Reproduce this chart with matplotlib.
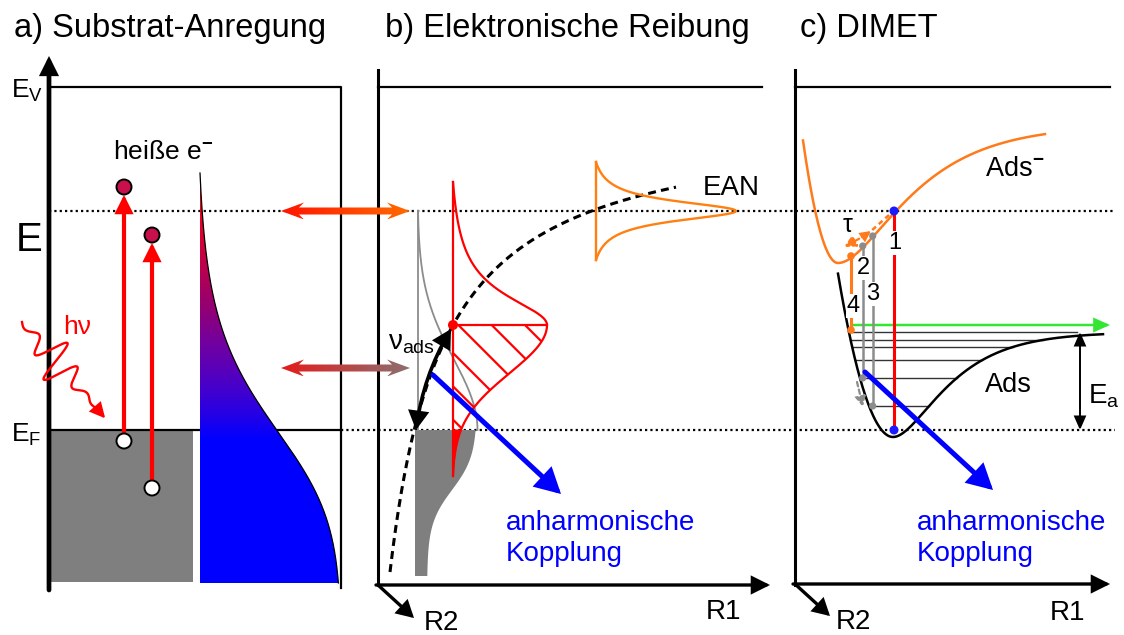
import numpy as np
import matplotlib
matplotlib.use("Agg")
import matplotlib.pyplot as plt
from matplotlib.patches import Polygon, Circle, Rectangle, FancyArrowPatch
from matplotlib.colors import LinearSegmentedColormap

plt.rcParams["font.family"] = ["Liberation Sans", "DejaVu Sans"]
plt.rcParams["mathtext.fontset"] = "custom"
plt.rcParams["mathtext.rm"] = "Liberation Sans"
plt.rcParams["mathtext.it"] = "Liberation Sans:italic"
plt.rcParams["mathtext.bf"] = "Liberation Sans:bold"
plt.rcParams["hatch.linewidth"] = 1.6
plt.rcParams["hatch.color"] = "red"

# ---------------- texts ----------------
panel_titles = ["a) Substrat-Anregung", "b) Elektronische Reibung", "c) DIMET"]
level_labels = [r"$\mathrm{E_V}$", "E", r"$\mathrm{E_F}$"]
hot_label = r"heiße e$^{\mathbf{-}}$"
photon_label = "hν"
vib_label = r"$\mathrm{ν_{ads}}$"
ean_label = "EAN"
coupling_lines = ["anharmonische", "Kopplung"]
coord_labels = ["R1", "R2"]
state_labels = [r"$\mathrm{Ads^{\mathbf{-}}}$", "Ads"]
barrier_label = r"$\mathrm{E_a}$"
step_labels = ["1", "2", "3", "4"]
tau_label = "τ"

# ---------------- energy scale (image rows; smaller = higher energy) ----------------
y_vac, y_res, y_fermi = 87, 211, 430

# potential curves of panel c: minimum position, left curvature, well depth, Morse range
ads_minus = dict(xe=838, ymin=263, k=0.10, D=138, a=0.0164, x0=803, x1=1045)
ads_ground = dict(xe=893, ymin=437, k=0.054, D=105, a=0.0217, x0=838, x1=1103)
vib_levels = [332, 340, 347, 360, 378, 406]

W, H = 1124, 635
fig = plt.figure(figsize=(W / 100, H / 100), dpi=100)
ax = fig.add_axes([0, 0, 1, 1])
ax.axis("off")


def arrow(p0, p1, color, lw, hl, hw, style="-|>", rad=0.0, z=5, ls="-"):
    a = FancyArrowPatch(p0, p1, arrowstyle=f"{style},head_length={hl},head_width={hw}",
                        mutation_scale=10, lw=lw, color=color, linestyle=ls,
                        shrinkA=0, shrinkB=0, connectionstyle=f"arc3,rad={rad}",
                        zorder=z, joinstyle="miter")
    ax.add_patch(a)


def grad_double_arrow(x0, x1, y, c0, c1, sh=7, hl=23, hw=17):
    verts = [(x0, y), (x0 + hl, y - hw / 2), (x0 + hl - 5, y - sh / 2),
             (x1 - hl + 5, y - sh / 2), (x1 - hl, y - hw / 2), (x1, y),
             (x1 - hl, y + hw / 2), (x1 - hl + 5, y + sh / 2),
             (x0 + hl - 5, y + sh / 2), (x0 + hl, y + hw / 2)]
    poly = Polygon(verts, closed=True, facecolor="none", edgecolor="none")
    ax.add_patch(poly)
    cm = LinearSegmentedColormap.from_list("g", [c0, c1])
    im = ax.imshow(np.linspace(0, 1, 256).reshape(1, -1), cmap=cm,
                   extent=(x0, x1, y + hw / 2, y - hw / 2), aspect="auto",
                   interpolation="bilinear", zorder=6)
    im.set_clip_path(poly)


def pot(x, p):
    dx = x - p["xe"]
    e = np.where(dx < 0, p["k"] * dx ** 2,
                 p["D"] * (1 - np.exp(-p["a"] * np.clip(dx, 0, None))) ** 2)
    return p["ymin"] - e


def lorentz(y, y0, w):
    v = 1 / (1 + ((y - y0) / w) ** 2)
    v0 = v[0] if abs(y[0] - y0) > abs(y[-1] - y0) else v[-1]
    return np.clip((v - v0) / (1 - v0), 0, None)


# ---------------- common level lines ----------------
ax.plot([49, 1115], [y_res, y_res], color="black", lw=1.6, ls=(0, (1.0, 1.4)), zorder=2)
ax.plot([49, 341], [y_fermi, y_fermi], color="black", lw=1.6, zorder=2)
ax.plot([341, 1115], [y_fermi, y_fermi], color="black", lw=1.6, ls=(0, (1.0, 1.4)), zorder=2)

# ---------------- panel a ----------------
ax.text(14, 37, panel_titles[0], fontsize=23.5, va="baseline")
arrow((49, 590), (49, 56), "black", 3.4, 0.9, 0.45, z=4)
ax.plot([49, 341, 341], [y_vac, y_vac, 588], color="black", lw=1.6, zorder=3)
ax.plot([378, 378], [70, 585], color="black", lw=2.2, zorder=3)
ax.text(11, 98, level_labels[0], fontsize=19, va="baseline")
ax.text(16, 251, level_labels[1], fontsize=29, va="baseline")
ax.text(11, 442, level_labels[2], fontsize=19, va="baseline")

ax.add_patch(Rectangle((49, y_fermi), 144, 152, facecolor="#7f7f7f", edgecolor="none", zorder=1))

# hot electron distribution
yy = np.linspace(173, 583, 400)
s = 45 + (530 - yy) * 0.07
f = 1 / (1 + np.exp((418 - yy) / s))
f = (f - f[0]) / (1 - f[0])
xr = 200 + 141 * f
shape = Polygon(np.column_stack([np.r_[200, xr, 200], np.r_[173, yy, 583]]),
                closed=True, facecolor="none", edgecolor="none")
ax.add_patch(shape)
grad_stops = [(0.0, "#ff0010"), (0.1, "#f00022"), (0.21, "#c20045"), (0.33, "#920074"),
              (0.415, "#7200a0"), (0.5, "#5000c2"), (0.58, "#2a00e2"), (0.65, "#0000ff"),
              (1.0, "#0000ff")]
cm_hot = LinearSegmentedColormap.from_list("hot_e", grad_stops)
im = ax.imshow(np.linspace(0, 1, 256).reshape(-1, 1), cmap=cm_hot,
               extent=(200, 342, 583, 173), aspect="auto", interpolation="bilinear", zorder=2)
im.set_clip_path(shape)
ax.plot(xr, yy, color="black", lw=0.9, zorder=3)

# excitations
ax.text(113, 159, hot_label, fontsize=19, va="baseline")
for xe, yh, ye in [(124, 441, 187), (152, 488, 235)]:
    arrow((xe, yh - 7), (xe, ye + 8), "red", 3.0, 0.9, 0.45, z=5)
    ax.add_patch(Circle((xe, ye), 7.5, facecolor="#c8104c", edgecolor="black", lw=1.4, zorder=6))
    ax.add_patch(Circle((xe, yh), 7.5, facecolor="white", edgecolor="black", lw=1.4, zorder=6))

# photon
p0, p1 = np.array([22.0, 322.0]), np.array([98.0, 410.0])
d = p1 - p0
u = d / np.hypot(*d)
nv = np.array([-u[1], u[0]])
t = np.linspace(0, 1, 800)
env = (2.5 + 20 * np.exp(-((t - 0.45) / 0.19) ** 2)) * np.clip((1 - t) / 0.12, 0, 1)
off = env * np.sin(2 * np.pi * 4.5 * t)
wave = p0 + t[:, None] * d + off[:, None] * nv
ax.plot(wave[:, 0], wave[:, 1], color="red", lw=1.7, zorder=7)
arrow(tuple(p1 - u * 4), tuple(p1 + u * 11), "red", 1.5, 0.9, 0.45, z=7)
ax.text(63, 334, photon_label, fontsize=19, color="red", va="baseline")

# coupling to panel b
grad_double_arrow(281, 410, y_res, "#ff1400", "#ff6a00")
grad_double_arrow(281, 410, 368, "#e41c1c", "#8c7070")

# ---------------- panel b ----------------
ax.text(385, 37, panel_titles[1], fontsize=23.5, va="baseline")
ax.plot([378, 762], [y_vac, y_vac], color="black", lw=1.6, zorder=3)
arrow((376, 585), (770, 585), "black", 2.4, 1.0, 0.5, z=4)
arrow((378, 585), (414, 618), "black", 2.4, 0.9, 0.5, z=4)
ax.text(706, 619, coord_labels[0], fontsize=20, va="baseline")
ax.text(424, 630, coord_labels[1], fontsize=20, va="baseline")

# substrate-side density (grey)
yg = np.linspace(y_res, y_fermi, 200)
ax.plot([417.5, 417.5], [y_res, y_fermi], color="#8c8c8c", lw=1.3, zorder=3)
ax.plot(417.5 + 60 * np.exp(-((y_fermi - yg) / 100) ** 2), yg, color="#8c8c8c", lw=1.3, zorder=3)
yb = np.linspace(y_fermi, 576, 200)
wb = 12 + 50 / (1 + np.exp((yb - 490) / 17))
ax.add_patch(Polygon(np.column_stack([np.r_[415, 415 + wb, 415], np.r_[y_fermi, yb, 576]]),
                     closed=True, facecolor="#7f7f7f", edgecolor="none", zorder=2))

# adsorbate level distribution (red)
x_lev, y_pk, amp = 453, 325, 94
yu = np.linspace(182, y_pk, 200)
xu = x_lev + amp * lorentz(yu, y_pk, 36)
yl = np.linspace(y_pk, 476, 300)
gl = np.exp(-((yl - y_pk) / 48) ** 2 / 2)
xl = x_lev + amp * (gl - gl[-1]) / (1 - gl[-1])
ax.plot(np.r_[xu, xl], np.r_[yu, yl], color="red", lw=1.6, zorder=5)
ax.plot([x_lev, x_lev], [182, 476], color="red", lw=1.6, zorder=5)
ax.plot([x_lev, x_lev + amp], [y_pk, y_pk], color="red", lw=1.6, zorder=5)
mask = yl <= y_fermi
ax.add_patch(Polygon(np.column_stack([np.r_[x_lev, xl[mask], x_lev], np.r_[y_pk, yl[mask], y_fermi]]),
                     closed=True, facecolor="none", edgecolor="red", lw=0, hatch="\\", zorder=4))
ax.add_patch(Polygon(np.column_stack([np.r_[x_lev, xl[~mask]], np.r_[y_fermi, yl[~mask]]]),
                     closed=True, facecolor="red", edgecolor="red", lw=0.8, zorder=5))
ax.add_patch(Circle((x_lev, y_pk), 5, facecolor="red", edgecolor="none", zorder=7))

# EAN curve and its distribution
xd = np.linspace(390, 676, 300)
ax.plot(xd, 115 + 24495 / (xd - 336.4), color="black", lw=2.2, ls=(0, (2.6, 1.7)), zorder=4)
yo = np.linspace(162, 260, 300)
lo = np.r_[lorentz(yo[yo <= y_res], y_res, 12), lorentz(yo[yo > y_res], y_res, 12)]
ax.plot(596 + 140 * lo, yo, color="#ff8010", lw=1.7, zorder=5)
ax.plot([596, 596], [162, 260], color="#ff8010", lw=1.7, zorder=5)
ax.text(703, 195, ean_label, fontsize=20, va="baseline")

# vibration and coupling
arrow((451, 329), (416, 430), "black", 2.6, 1.0, 0.55, style="<|-|>", rad=0.1, z=8)
ax.text(388, 349, vib_label, fontsize=20, va="baseline", zorder=8)
arrow((433, 375), (561, 494), "#0000ff", 3.6, 1.3, 0.7, z=8)
ax.text(506, 530, coupling_lines[0], fontsize=20, color="#0000ff", va="baseline")
ax.text(506, 561, coupling_lines[1], fontsize=20, color="#0000ff", va="baseline")

# ---------------- panel c ----------------
ax.text(800, 37, panel_titles[2], fontsize=23.5, va="baseline")
ax.plot([795, 795], [70, 585], color="black", lw=2.2, zorder=3)
ax.plot([795, 1110], [y_vac, y_vac], color="black", lw=1.6, zorder=3)
arrow((793, 584), (1110, 584), "black", 2.4, 1.0, 0.5, z=4)
arrow((795, 584), (830, 616), "black", 2.4, 0.9, 0.5, z=4)
ax.text(1050, 620, coord_labels[0], fontsize=20, va="baseline")
ax.text(836, 629, coord_labels[1], fontsize=20, va="baseline")

xm = np.linspace(ads_minus["x0"], ads_minus["x1"], 400)
ax.plot(xm, pot(xm, ads_minus), color="#ff7a1a", lw=1.8, zorder=5)
xg = np.linspace(ads_ground["x0"], ads_ground["x1"], 400)
ax.plot(xg, pot(xg, ads_ground), color="black", lw=1.8, zorder=5)
ax.text(985, 176, state_labels[0], fontsize=19.5, va="baseline")
ax.text(985, 392, state_labels[1], fontsize=19.5, va="baseline")

# vibrational ladder
for yv in vib_levels:
    e = ads_ground["ymin"] - yv
    xl_v = ads_ground["xe"] - np.sqrt(e / ads_ground["k"])
    r = np.sqrt(e / ads_ground["D"])
    xr_v = 1077 if r >= 0.99 else ads_ground["xe"] - np.log(1 - r) / ads_ground["a"]
    ax.plot([xl_v, min(xr_v, 1077)], [yv, yv], color="#333333", lw=1.0, zorder=3)
arrow((853, 325), (1110, 325), "#33e633", 1.8, 0.9, 0.4, z=6)
arrow((1080, 430), (1080, 332), "black", 1.4, 0.8, 0.35, style="<|-|>", z=6)
ax.text(1088, 404, barrier_label, fontsize=20, va="baseline")

# transitions 1-4
ax.plot([894, 894], [y_res, y_fermi], color="red", lw=2.2, zorder=6)
for yy_ in (y_res, y_fermi):
    ax.add_patch(Circle((894, yy_), 4.5, facecolor="#1a1aff", edgecolor="none", zorder=7))
for xs, yt, ybt in [(862.7, 246, 378), (872.7, 236, 406)]:
    ax.plot([xs, xs], [yt, ybt], color="#8c8c8c", lw=1.8, zorder=6)
    for yy_ in (yt, ybt):
        ax.add_patch(Circle((xs, yy_), 3.6, facecolor="#8c8c8c", edgecolor="none", zorder=7))
ax.plot([851, 851], [256, 330], color="#ff7a1a", lw=2.2, zorder=6)
for yy_ in (256, 330):
    ax.add_patch(Circle((851, yy_), 3.8, facecolor="#ff7a1a", edgecolor="none", zorder=7))
# relaxation on the ion curve
ax.plot([889, 870], [215, 232], color="#ff7a1a", lw=1.8, ls=(0, (2, 1.5)), zorder=6)
arrow((864, 236), (871, 231), "#ff7a1a", 1.4, 0.6, 0.3, z=6)
arrow((866, 235), (844, 247), "#ff7a1a", 1.6, 0.7, 0.35, z=6, ls=(0, (2, 1.5)))
arrow((857, 382), (863, 407), "#8c8c8c", 1.6, 0.6, 0.3, z=6, ls=(0, (2, 1.5)))

lab_box = dict(facecolor="white", edgecolor="none", pad=0.5)
for txt, (xt, yt) in zip(step_labels, [(895, 243), (863, 268), (873, 294), (853, 306)]):
    ax.text(xt, yt, txt, fontsize=17, ha="center", va="center", bbox=lab_box, zorder=7)
ax.text(848, 225, tau_label, fontsize=18, ha="center", va="center", zorder=7)

arrow((865, 372), (993, 490), "#0000ff", 3.6, 1.3, 0.7, z=8)
ax.text(917, 530, coupling_lines[0], fontsize=20, color="#0000ff", va="baseline")
ax.text(917, 561, coupling_lines[1], fontsize=20, color="#0000ff", va="baseline")

ax.set_xlim(0, W)
ax.set_ylim(H, 0)
fig.savefig("out.png", dpi=100, facecolor="white")
